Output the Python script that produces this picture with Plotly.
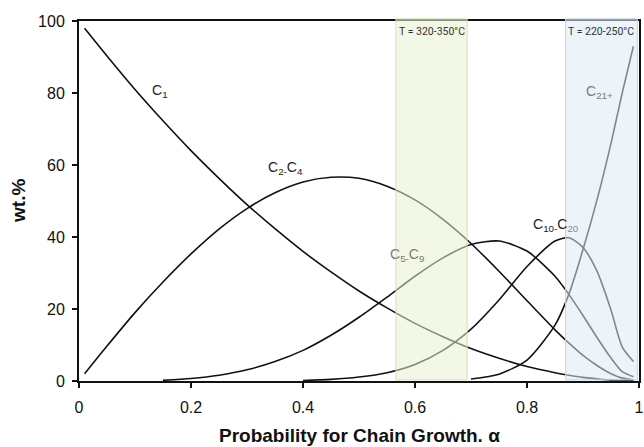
import plotly.graph_objects as go

alpha = [0.01, 0.05, 0.10, 0.15, 0.20, 0.25, 0.30, 0.35, 0.40, 0.45, 0.50, 0.55,
         0.60, 0.65, 0.70, 0.75, 0.80, 0.85, 0.875, 0.90, 0.925, 0.95, 0.97, 0.99]
c1 = [98.0, 90.3, 81.0, 72.3, 64.0, 56.3, 49.0, 42.3, 36.0, 30.3, 25.0, 20.3,
      16.0, 12.3, 9.0, 6.3, 4.0, 2.3, 1.6, 1.0, 0.6, 0.25, 0.1, 0.05]
c2_c4 = [2.0, 9.7, 19.0, 27.5, 35.3, 42.2, 47.9, 52.3, 55.3, 56.6, 56.3, 54.1,
         50.3, 44.9, 38.2, 30.5, 22.3, 14.2, 10.5, 7.1, 4.3, 2.0, 0.8, 0.3]
c5_c9 = [None, None, None, 0.2, 0.7, 1.6, 3.1, 5.4, 8.5, 12.7, 17.7, 23.3,
         29.1, 34.2, 37.9, 38.9, 36.1, 29.1, 24.0, 18.2, 12.1, 6.4, 2.6, 1.2]
c10_c20 = [None, None, None, None, None, None, None, None, 0.15, 0.45, 1.1, 2.3,
           4.6, 8.5, 14.4, 22.5, 31.8, 38.9, 39.8, 37.1, 30.5, 19.7, 9.5, 5.4]
c21_plus = [None, None, None, None, None, None, None, None, None, None, None, None,
            None, None, 0.56, 1.9, 5.8, 15.5, 24.2, 36.5, 50.3, 66.0, 80.0, 93.0]

series = [("C1", c1), ("C2-C4", c2_c4), ("C5-C9", c5_c9), ("C10-C20", c10_c20), ("C21+", c21_plus)]

band_labels = ["T = 320-350°C", "T = 220-250°C"]
band_x0 = [0.566, 0.869]
band_x1 = [0.693, 0.997]
band_fill = ["rgba(234,242,210,0.55)", "rgba(220,235,246,0.55)"]
band_edge = ["#d3e0b8", "#c7d5de"]

x_ticks = [0, 0.2, 0.4, 0.6, 0.8, 1]
x_ticktext = ["0", "0.2", "0.4", "0.6", "0.8", "1"]
y_ticks = [0, 20, 40, 60, 80, 100]

font_family = "Liberation Sans, Arial, sans-serif"

fig = go.Figure()
for name, vals in series:
    fig.add_trace(go.Scatter(
        x=alpha, y=vals, mode="lines", name=name,
        line=dict(color="#111111", width=1.6, shape="spline", smoothing=0.7),
        connectgaps=False, showlegend=False, hoverinfo="skip"))

shapes = []
for x0, x1, fc, ec in zip(band_x0, band_x1, band_fill, band_edge):
    shapes.append(dict(type="rect", xref="x", yref="paper", x0=x0, x1=x1, y0=0.003, y1=1.006,
                       fillcolor=fc, line=dict(color=ec, width=1), layer="above"))

annotations = []
for x0, x1, txt in zip(band_x0, band_x1, band_labels):
    annotations.append(dict(x=(x0 + x1) / 2, y=0.995, xref="x", yref="paper", text=txt,
                            showarrow=False, yanchor="top",
                            font=dict(family="Roboto, sans-serif", size=10.5, color="#333333")))

label_specs = [
    (0.144, 80.5, "C<sub>1</sub>", "#222222"),
    (0.369, 59.3, "C<sub>2-</sub>C<sub>4</sub>", "#222222"),
    (0.585, 35.0, "C<sub>5-</sub>C<sub>9</sub>", "#7a7a7a"),
    (0.852, 43.3, "C<sub>10-</sub>C<span style='color:#8a8a8a'><sub>20</sub></span>", "#222222"),
    (0.929, 80.3, "C<sub>21+</sub>", "#7a7a7a"),
]
for lx, ly, txt, col in label_specs:
    annotations.append(dict(x=lx, y=ly, xref="x", yref="y", text=txt, showarrow=False,
                            font=dict(family=font_family, size=14, color=col)))

annotations.append(dict(x=0.5, y=-0.152, xref="paper", yref="paper",
                        text="<b>Probability for Chain Growth. α</b>", showarrow=False,
                        yanchor="middle", font=dict(family=font_family, size=19, color="#111111")))
annotations.append(dict(x=-0.109, y=0.5, xref="paper", yref="paper", text="<b>wt.%</b>",
                        textangle=-90, showarrow=False, xanchor="center",
                        font=dict(family=font_family, size=19, color="#111111")))

fig.update_layout(
    width=644, height=447,
    margin=dict(l=79, r=5, t=21, b=66, autoexpand=False),
    paper_bgcolor="white", plot_bgcolor="white",
    shapes=shapes, annotations=annotations,
    xaxis=dict(range=[0, 1], tickvals=x_ticks, ticktext=x_ticktext, showgrid=False, zeroline=False,
               showline=True, linecolor="#111111", linewidth=2, mirror=True, automargin=False,
               ticks="outside", ticklen=5, tickwidth=1.5, tickcolor="#111111",
               ticklabelstandoff=6, ticklabeloverflow="allow",
               tickfont=dict(family=font_family, size=16, color="#111111")),
    yaxis=dict(range=[0, 100], tickvals=y_ticks, showgrid=False, zeroline=False,
               showline=True, linecolor="#111111", linewidth=2, mirror=True, automargin=False,
               ticks="outside", ticklen=5, tickwidth=1.5, tickcolor="#111111",
               ticklabelstandoff=4,
               tickfont=dict(family=font_family, size=16, color="#111111")),
)

fig.write_html("out.html", config={"displayModeBar": False},
               post_script="document.body.style.margin='0px';document.body.style.overflow='hidden';")
